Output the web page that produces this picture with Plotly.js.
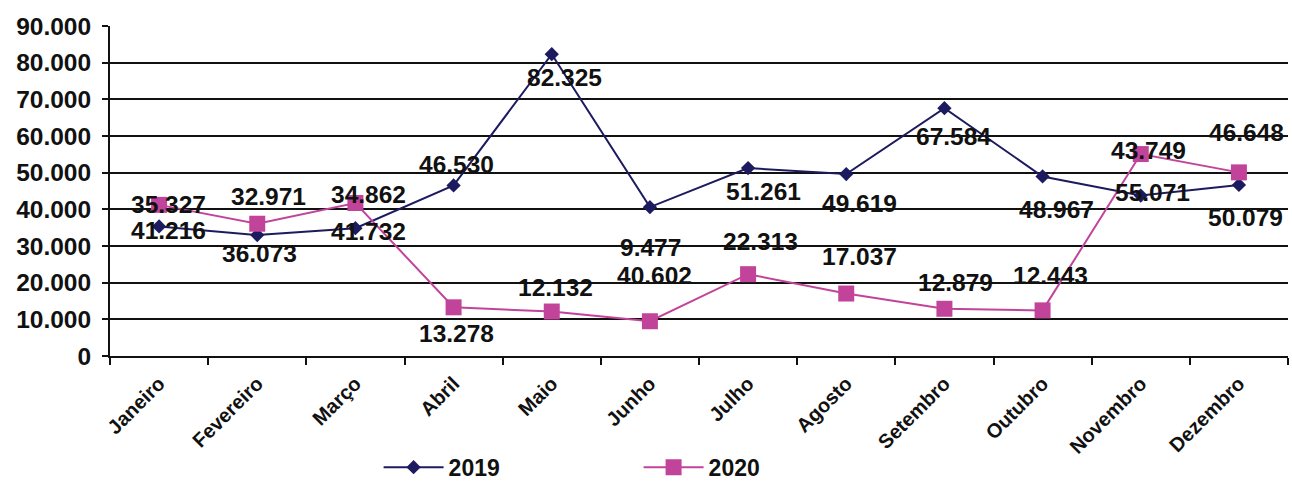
<!DOCTYPE html>
<html>
<head>
<meta charset="utf-8">
<script src="https://cdn.plot.ly/plotly-3.0.1.min.js"></script>
<style>
html,body{margin:0;padding:0;background:#fff;}
#chart{width:1292px;height:482px;}
</style>
</head>
<body>
<div id="chart"></div>
<script>
const months = ['Janeiro','Fevereiro','Março','Abril','Maio','Junho','Julho','Agosto','Setembro','Outubro','Novembro','Dezembro'];
const values2019 = [35327, 32971, 34862, 46530, 82325, 40602, 51261, 49619, 67584, 48967, 43749, 46648];
const values2020 = [41216, 36073, 41732, 13278, 12132, 9477, 22313, 17037, 12879, 12443, 55071, 50079];
const yTicks = [0, 10000, 20000, 30000, 40000, 50000, 60000, 70000, 80000, 90000];

// label pixel offsets [dx, dy] (dy positive = downward)
const labelOffsets2019 = [[9,-22],[11,-39],[13,-34],[3,-21],[13,23],[5,68],[15,23],[13,29],[9,28],[14,33],[8,-45],[8,-52]];
const labelOffsets2020 = [[9,26],[2,30],[13,29],[3,26],[4,-24],[1,-74],[12,-33],[13,-37],[11,-26],[8,-35],[12,38],[7,45]];

const navy = '#1d1b5f';
const magenta = '#c2449a';
const FONT = 'Liberation Sans, Arial, Helvetica, sans-serif';

function fmt(v){ return String(v).replace(/\B(?=(\d{3})+(?!\d))/g, '.'); }

const traces = [
  {x: months, y: values2019, name: '2019', type: 'scatter', mode: 'lines+markers',
   line: {color: navy, width: 2}, marker: {symbol: 'diamond', size: 11, color: navy}},
  {x: months, y: values2020, name: '2020', type: 'scatter', mode: 'lines+markers',
   line: {color: magenta, width: 2}, marker: {symbol: 'square', size: 16, color: magenta}}
];

const annotations = [];
function addLabels(vals, offs){
  vals.forEach((v,i)=>{
    annotations.push({x: months[i], y: v, xref: 'x', yref: 'y', text: fmt(v), showarrow: false,
      xanchor: 'center', yanchor: 'middle', xshift: offs[i][0], yshift: -offs[i][1],
      font: {family: FONT, size: 24.5, color: '#111', weight: 'bold'}});
  });
}
addLabels(values2019, labelOffsets2019);
addLabels(values2020, labelOffsets2020);

const layout = {
  width: 1292, height: 482,
  margin: {l: 110, r: 4, t: 26, b: 126, autoexpand: false},
  paper_bgcolor: '#fff', plot_bgcolor: '#fff',
  separators: ',.',
  font: {family: FONT, color: '#111', weight: 'bold'},
  showlegend: true,
  legend: {orientation: 'h', x: 0.228, xanchor: 'left', y: -0.337, yanchor: 'middle',
    font: {family: FONT, size: 23, color: '#111', weight: 'bold'},
    itemwidth: 60, entrywidth: 185, entrywidthmode: 'pixels', bgcolor: 'rgba(0,0,0,0)'},
  xaxis: {type: 'category', range: [-0.5, 11.5], showgrid: false, showline: true,
    linecolor: '#111', linewidth: 2, ticks: 'outside', tickson: 'boundaries', ticklen: 7,
    tickcolor: '#111', tickwidth: 2, tickangle: -45, automargin: false, ticklabelstandoff: 6,
    tickfont: {family: FONT, size: 20, color: '#111', weight: 'bold'}, fixedrange: true},
  yaxis: {range: [0, 90000], tickvals: yTicks, tickformat: ',d', showgrid: true,
    gridcolor: '#111', gridwidth: 2, zeroline: false, showline: true, linecolor: '#111',
    linewidth: 2, ticks: 'outside', ticklen: 6, tickcolor: '#111', tickwidth: 2,
    ticklabelstandoff: 6, automargin: false,
    tickfont: {family: FONT, size: 24.5, color: '#111', weight: 'bold'}, fixedrange: true},
  annotations: annotations
};

Plotly.newPlot('chart', traces, layout, {displayModeBar: false, staticPlot: true});
</script>
</body>
</html>
